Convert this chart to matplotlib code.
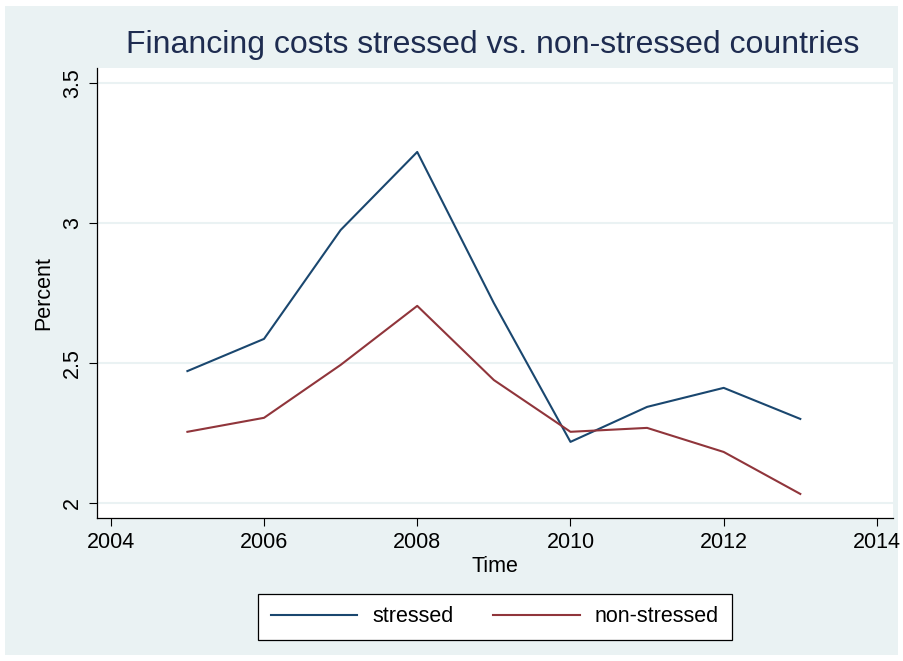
import matplotlib.pyplot as plt
import matplotlib.patches as mpatches

plt.rcParams['font.family'] = ['Liberation Sans', 'DejaVu Sans']

years = [2005, 2006, 2007, 2008, 2009, 2010, 2011, 2012, 2013]
stressed = [2.471, 2.586, 2.975, 3.254, 2.714, 2.218, 2.343, 2.411, 2.300]
non_stressed = [2.254, 2.304, 2.493, 2.704, 2.439, 2.254, 2.268, 2.182, 2.032]

xticks = [2004, 2006, 2008, 2010, 2012, 2014]
yticks = [2, 2.5, 3, 3.5]
ytick_labels = ['2', '2.5', '3', '3.5']

bg = '#eaf2f3'
fig = plt.figure(figsize=(9.04, 6.61), dpi=100, facecolor='white')
# inner graph region (Stata style)
fig.patches.append(mpatches.Rectangle((5 / 904, 6 / 661), 893 / 904, 649 / 661,
                                      transform=fig.transFigure, facecolor=bg,
                                      edgecolor='none', zorder=-10))

ax = fig.add_axes([97 / 904, 1 - 518 / 661, 796 / 904, 450 / 661])
ax.set_facecolor('white')

ax.plot(years, stressed, color='#1a476f', lw=1.5, label='stressed')
ax.plot(years, non_stressed, color='#90353b', lw=1.5, label='non-stressed')

ax.set_xlim(2003.82, 2014.21)
ax.set_ylim(1.946, 3.554)
ax.set_xticks(xticks)
ax.set_yticks(yticks)
ax.set_yticklabels(ytick_labels, rotation=90, va='center')
ax.tick_params(labelsize=15.5, length=6, width=0.8, color='black', pad=4)
ax.grid(axis='y', color=bg, lw=1.5)
ax.set_axisbelow(True)
for s in ['top', 'right']:
    ax.spines[s].set_visible(False)
for s in ['left', 'bottom']:
    ax.spines[s].set_color('black')
    ax.spines[s].set_linewidth(0.9)

ax.set_xlabel('Time', fontsize=15.5, labelpad=2)
ax.set_ylabel('Percent', fontsize=15.5, labelpad=6)

fig.text(0.545, 1 - 45 / 661, 'Financing costs stressed vs. non-stressed countries',
         ha='center', va='center', fontsize=23, color='#1e2c50')

leg = ax.legend(loc='center', bbox_to_anchor=(0.5, -0.22), ncol=2, fontsize=15.5,
                frameon=True, fancybox=False, edgecolor='black', framealpha=1,
                facecolor='white', handlelength=4, handletextpad=0.7,
                columnspacing=1.85, borderpad=0.6)
leg.get_frame().set_linewidth(0.9)

fig.savefig('out.png', dpi=100, facecolor=fig.get_facecolor())
